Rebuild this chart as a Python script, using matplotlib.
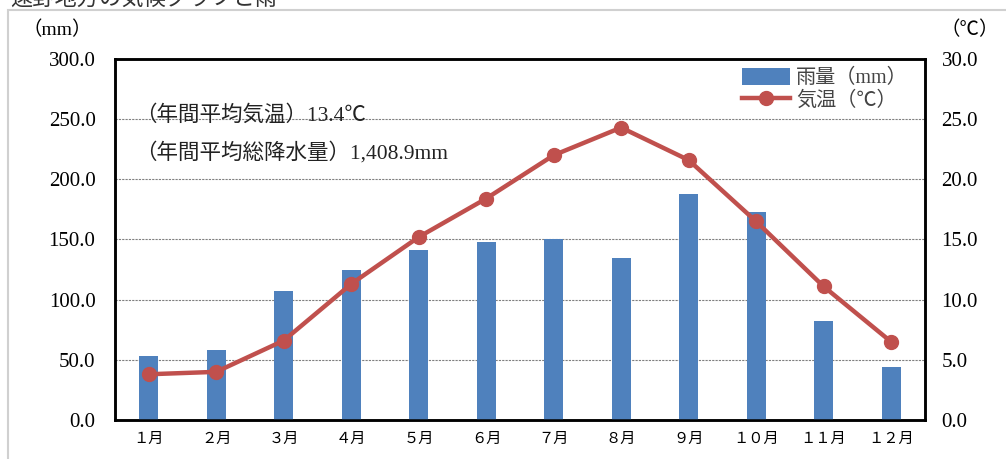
import matplotlib
matplotlib.use('Agg')
import matplotlib.pyplot as plt
from matplotlib.patches import Rectangle
import numpy as np

plt.rcParams['font.family'] = ['Liberation Serif', 'Noto Sans CJK JP', 'DejaVu Sans']

# データ
months = ['１月', '２月', '３月', '４月', '５月', '６月',
          '７月', '８月', '９月', '１０月', '１１月', '１２月']
rain = [53, 58, 107, 125, 141, 148, 150, 135, 188, 173, 82, 44]
temp = [3.8, 4.0, 6.6, 11.3, 15.2, 18.4, 22.0, 24.3, 21.6, 16.5, 11.1, 6.5]
rain_ticks = [0, 50, 100, 150, 200, 250, 300]
temp_ticks = [0, 5, 10, 15, 20, 25, 30]

fig = plt.figure(figsize=(10.06, 4.59), dpi=100)
ax = fig.add_axes([0.1143, 0.085, 0.805, 0.7865])
ax2 = ax.twinx()

# 外枠 (薄いグレー)
fig.patches.append(Rectangle((0.008, -0.01), 1.2, 0.988, transform=fig.transFigure,
                             fill=False, edgecolor='#d0d0d0', linewidth=1.5))

x = np.arange(len(months))
ax.bar(x, rain, width=0.28, color='#4F81BD', label='雨量（mm）', zorder=3)
ax2.plot(x, temp, color='#C0504D', linewidth=3.2, marker='o', markersize=10,
         label='気温（℃）', zorder=4)

ax.set_xlim(-0.5, 11.5)
ax.set_ylim(0, 300)
ax2.set_ylim(0, 30)
ax.set_yticks(rain_ticks)
ax.set_yticklabels([f'{v:.1f}' for v in rain_ticks], fontsize=15)
ax2.set_yticks(temp_ticks)
ax2.set_yticklabels([f'{v:.1f}' for v in temp_ticks], fontsize=15)
ax.set_xticks(x)
ax.set_xticklabels(months, fontsize=11)
ax.tick_params(axis='x', length=0, pad=9)
ax.tick_params(axis='y', length=0, pad=14)
ax2.tick_params(axis='y', length=0, pad=12)

for v in rain_ticks[1:-1]:
    ax.axhline(v, color='#808080', linestyle=(0, (2, 1)), linewidth=0.8, zorder=1)

for sp in ax.spines.values():
    sp.set_linewidth(1.8)
    sp.set_color('black')
for sp in ax2.spines.values():
    sp.set_linewidth(1.8)

ax.text(0.025, 0.845, '（年間平均気温）13.4℃', transform=ax.transAxes, fontsize=15.5,
        color='#222222', va='center')
ax.text(0.025, 0.74, '（年間平均総降水量）1,408.9mm', transform=ax.transAxes, fontsize=15.5,
        color='#222222', va='center')

fig.text(0.022, 0.935, '（mm）', fontsize=14, va='center')
fig.text(0.935, 0.935, '（℃）', fontsize=14, va='center')
fig.text(0.01, 1.0, '遠野地方の気候グラフと雨', fontsize=16, va='center', color='#333333')

h1, l1 = ax.get_legend_handles_labels()
h2, l2 = ax2.get_legend_handles_labels()
leg = ax2.legend(h1 + h2, l1 + l2, loc='upper right', bbox_to_anchor=(0.99, 1.0),
                 frameon=False, fontsize=14.5, handlelength=2.4, handleheight=0.9,
                 labelspacing=0.1, handletextpad=0.3, borderaxespad=0.05)
for t in leg.get_texts():
    t.set_color('#444444')

fig.savefig('out.png', dpi=100)
